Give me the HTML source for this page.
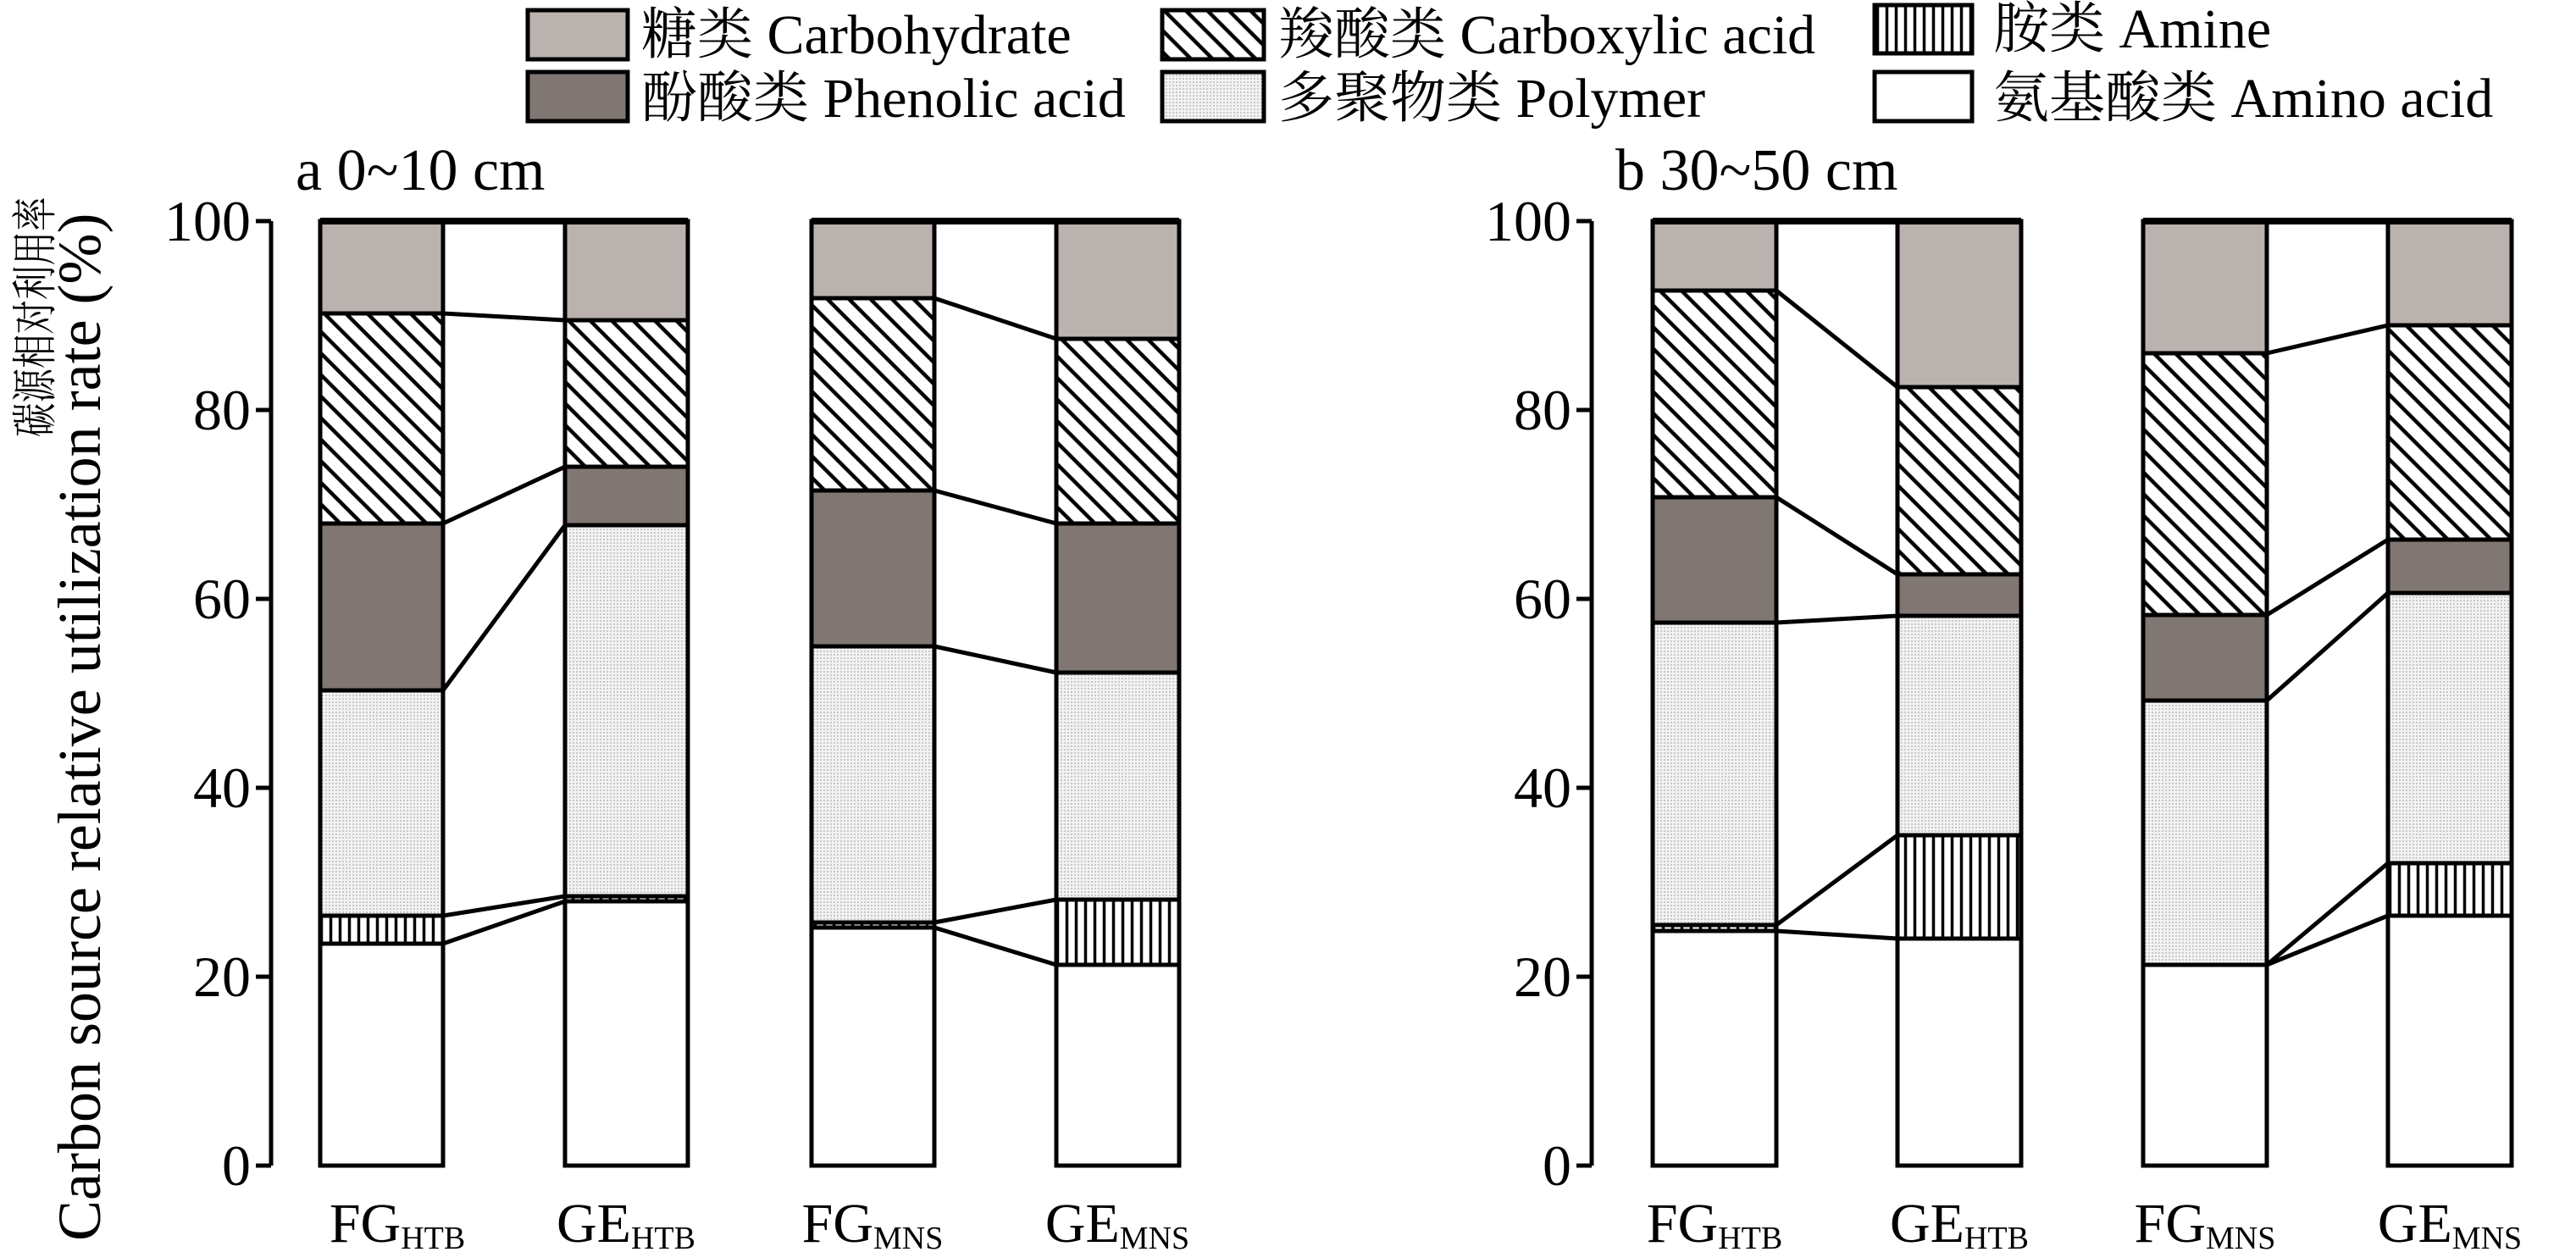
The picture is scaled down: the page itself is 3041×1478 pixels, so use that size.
<!DOCTYPE html>
<html><head><meta charset="utf-8"><style>
html,body{margin:0;padding:0;background:#fff}
svg{display:block}
text,tspan{font-family:"Liberation Serif",serif;fill:#000}
.cj{font-family:"Noto Serif CJK SC","Noto Sans CJK SC",serif}
</style></head><body>
<svg width="3041" height="1478" viewBox="0 0 3041 1478" xmlns="http://www.w3.org/2000/svg">
<defs>
<pattern id="hatch" patternUnits="userSpaceOnUse" width="18" height="18" patternTransform="rotate(-45)">
<rect width="18" height="18" fill="#fff"/><line x1="9" y1="0" x2="9" y2="18" stroke="#000" stroke-width="4.5"/></pattern>
<pattern id="vert" patternUnits="userSpaceOnUse" width="11" height="11">
<rect width="11" height="11" fill="#fff"/><line x1="5.5" y1="0" x2="5.5" y2="11" stroke="#000" stroke-width="3.5"/></pattern>
<pattern id="dots" patternUnits="userSpaceOnUse" width="4" height="4">
<rect width="4" height="4" fill="#f2f2f2"/><rect width="2" height="2" fill="#c8c8c8"/></pattern>
</defs>
<g stroke="#000" stroke-width="5">
<rect x="623" y="12" width="118" height="58" fill="#bab2ae"/>
<rect x="623" y="85" width="118" height="58" fill="#807672"/>
<rect x="1372" y="12" width="120" height="58" fill="url(#hatch)"/>
<rect x="1372" y="85" width="120" height="58" fill="url(#dots)"/>
<rect x="2213" y="6" width="115" height="57" fill="url(#vert)"/>
<rect x="2213" y="85" width="115" height="58" fill="#fff"/>
</g>
<g font-size="66">
<text x="757" y="63"><tspan class="cj">糖类</tspan> Carbohydrate</text>
<text x="757" y="138"><tspan class="cj">酚酸类</tspan> Phenolic acid</text>
<text x="1509" y="63"><tspan class="cj">羧酸类</tspan> Carboxylic acid</text>
<text x="1509" y="138"><tspan class="cj">多聚物类</tspan> Polymer</text>
<text x="2353" y="56"><tspan class="cj">胺类</tspan> Amine</text>
<text x="2353" y="138"><tspan class="cj">氨基酸类</tspan> Amino acid</text>
</g>
<text class="cj" font-size="54" transform="translate(60,516) rotate(-90) scale(0.75,1)">碳源相对利用率</text>
<text font-size="72" transform="translate(118,1465) rotate(-90)">Carbon source relative utilization rate (%)</text>
<text x="349" y="224" font-size="70">a 0~10 cm</text>
<text x="1907" y="224" font-size="70">b 30~50 cm</text>
<g stroke="#000" stroke-width="5" fill="none">
<line x1="320" y1="261" x2="320" y2="1376"/>
<line x1="302" y1="261" x2="320" y2="261"/><line x1="302" y1="484" x2="320" y2="484"/><line x1="302" y1="707" x2="320" y2="707"/><line x1="302" y1="930" x2="320" y2="930"/><line x1="302" y1="1153" x2="320" y2="1153"/><line x1="302" y1="1376" x2="320" y2="1376"/>
<line x1="1879" y1="261" x2="1879" y2="1376"/>
<line x1="1861" y1="261" x2="1879" y2="261"/><line x1="1861" y1="484" x2="1879" y2="484"/><line x1="1861" y1="707" x2="1879" y2="707"/><line x1="1861" y1="930" x2="1879" y2="930"/><line x1="1861" y1="1153" x2="1879" y2="1153"/><line x1="1861" y1="1376" x2="1879" y2="1376"/>
</g>
<g font-size="68" text-anchor="end">
<text x="296" y="284">100</text><text x="296" y="507">80</text><text x="296" y="730">60</text><text x="296" y="953">40</text><text x="296" y="1176">20</text><text x="296" y="1399">0</text>
<text x="1855" y="284">100</text><text x="1855" y="507">80</text><text x="1855" y="730">60</text><text x="1855" y="953">40</text><text x="1855" y="1176">20</text><text x="1855" y="1399">0</text>
</g>
<g stroke="#000" stroke-width="5">
<rect x="378" y="1114" width="145" height="262" fill="#fff"/>
<rect x="378" y="1081" width="145" height="33" fill="url(#vert)"/>
<rect x="378" y="815" width="145" height="266" fill="url(#dots)"/>
<rect x="378" y="618" width="145" height="197" fill="#807672"/>
<rect x="378" y="370" width="145" height="248" fill="url(#hatch)"/>
<rect x="378" y="261" width="145" height="109" fill="#bab2ae"/>
<rect x="667" y="1064" width="145" height="312" fill="#fff"/>
<rect x="667" y="1058" width="145" height="6" fill="url(#vert)"/>
<rect x="667" y="620" width="145" height="438" fill="url(#dots)"/>
<rect x="667" y="551" width="145" height="69" fill="#807672"/>
<rect x="667" y="378" width="145" height="173" fill="url(#hatch)"/>
<rect x="667" y="261" width="145" height="117" fill="#bab2ae"/>
<rect x="958" y="1095" width="145" height="281" fill="#fff"/>
<rect x="958" y="1089" width="145" height="6" fill="url(#vert)"/>
<rect x="958" y="763" width="145" height="326" fill="url(#dots)"/>
<rect x="958" y="579" width="145" height="184" fill="#807672"/>
<rect x="958" y="352" width="145" height="227" fill="url(#hatch)"/>
<rect x="958" y="261" width="145" height="91" fill="#bab2ae"/>
<rect x="1247" y="1139" width="145" height="237" fill="#fff"/>
<rect x="1247" y="1062" width="145" height="77" fill="url(#vert)"/>
<rect x="1247" y="794" width="145" height="268" fill="url(#dots)"/>
<rect x="1247" y="618" width="145" height="176" fill="#807672"/>
<rect x="1247" y="400" width="145" height="218" fill="url(#hatch)"/>
<rect x="1247" y="261" width="145" height="139" fill="#bab2ae"/>
<rect x="1951" y="1099" width="146" height="277" fill="#fff"/>
<rect x="1951" y="1092" width="146" height="7" fill="url(#vert)"/>
<rect x="1951" y="735" width="146" height="357" fill="url(#dots)"/>
<rect x="1951" y="587" width="146" height="148" fill="#807672"/>
<rect x="1951" y="343" width="146" height="244" fill="url(#hatch)"/>
<rect x="1951" y="261" width="146" height="82" fill="#bab2ae"/>
<rect x="2240" y="1108" width="146" height="268" fill="#fff"/>
<rect x="2240" y="986" width="146" height="122" fill="url(#vert)"/>
<rect x="2240" y="727" width="146" height="259" fill="url(#dots)"/>
<rect x="2240" y="678" width="146" height="49" fill="#807672"/>
<rect x="2240" y="457" width="146" height="221" fill="url(#hatch)"/>
<rect x="2240" y="261" width="146" height="196" fill="#bab2ae"/>
<rect x="2530" y="1139" width="146" height="237" fill="#fff"/>
<rect x="2530" y="827" width="146" height="312" fill="url(#dots)"/>
<rect x="2530" y="726" width="146" height="101" fill="#807672"/>
<rect x="2530" y="417" width="146" height="309" fill="url(#hatch)"/>
<rect x="2530" y="261" width="146" height="156" fill="#bab2ae"/>
<rect x="2819" y="1081" width="146" height="295" fill="#fff"/>
<rect x="2819" y="1019" width="146" height="62" fill="url(#vert)"/>
<rect x="2819" y="700" width="146" height="319" fill="url(#dots)"/>
<rect x="2819" y="637" width="146" height="63" fill="#807672"/>
<rect x="2819" y="384" width="146" height="253" fill="url(#hatch)"/>
<rect x="2819" y="261" width="146" height="123" fill="#bab2ae"/>
</g>
<g stroke="#000" stroke-width="5" fill="none">
<line x1="378" y1="261" x2="812" y2="261" stroke-width="8"/>
<line x1="958" y1="261" x2="1392" y2="261" stroke-width="8"/>
<line x1="1951" y1="261" x2="2386" y2="261" stroke-width="8"/>
<line x1="2530" y1="261" x2="2965" y2="261" stroke-width="8"/>
<line x1="523" y1="1114" x2="667" y2="1064"/><line x1="523" y1="1081" x2="667" y2="1058"/><line x1="523" y1="815" x2="667" y2="620"/><line x1="523" y1="618" x2="667" y2="551"/><line x1="523" y1="370" x2="667" y2="378"/>
<line x1="1103" y1="1095" x2="1247" y2="1139"/><line x1="1103" y1="1089" x2="1247" y2="1062"/><line x1="1103" y1="763" x2="1247" y2="794"/><line x1="1103" y1="579" x2="1247" y2="618"/><line x1="1103" y1="352" x2="1247" y2="400"/>
<line x1="2097" y1="1099" x2="2240" y2="1108"/><line x1="2097" y1="1092" x2="2240" y2="986"/><line x1="2097" y1="735" x2="2240" y2="727"/><line x1="2097" y1="587" x2="2240" y2="678"/><line x1="2097" y1="343" x2="2240" y2="457"/>
<line x1="2676" y1="1139" x2="2819" y2="1081"/><line x1="2676" y1="1139" x2="2819" y2="1019"/><line x1="2676" y1="827" x2="2819" y2="700"/><line x1="2676" y1="726" x2="2819" y2="637"/><line x1="2676" y1="417" x2="2819" y2="384"/>
</g>
<g font-size="66" text-anchor="middle">
<text x="469" y="1466">FG<tspan font-size="38" dy="8">HTB</tspan></text>
<text x="739" y="1466">GE<tspan font-size="38" dy="8">HTB</tspan></text>
<text x="1030" y="1466">FG<tspan font-size="38" dy="8">MNS</tspan></text>
<text x="1319" y="1466">GE<tspan font-size="38" dy="8">MNS</tspan></text>
<text x="2024" y="1466">FG<tspan font-size="38" dy="8">HTB</tspan></text>
<text x="2313" y="1466">GE<tspan font-size="38" dy="8">HTB</tspan></text>
<text x="2603" y="1466">FG<tspan font-size="38" dy="8">MNS</tspan></text>
<text x="2892" y="1466">GE<tspan font-size="38" dy="8">MNS</tspan></text>
</g>
</svg>
</body></html>
